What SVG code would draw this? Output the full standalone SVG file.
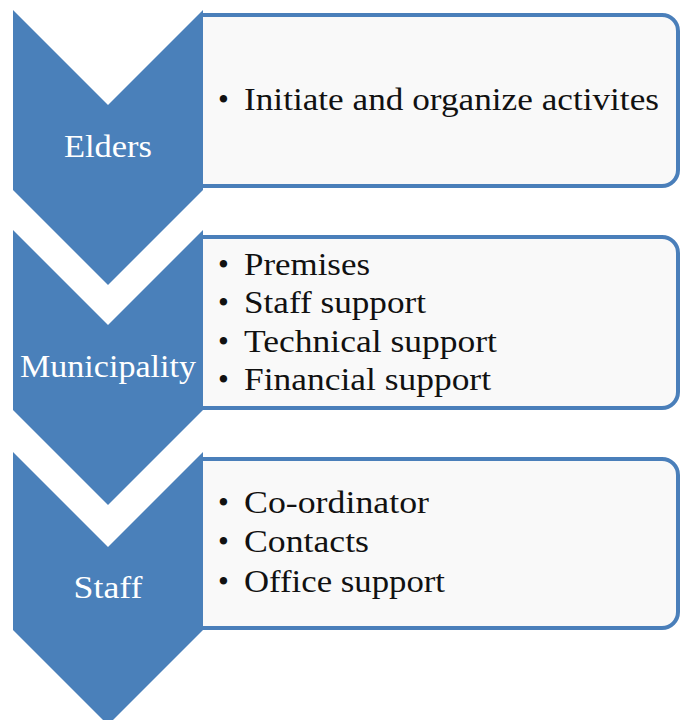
<svg xmlns="http://www.w3.org/2000/svg" width="681" height="720" viewBox="0 0 681 720">
<style>
.box{fill:#f9f9f9;stroke:#4a7fba;stroke-width:4}
.chev{fill:#4a80ba}
.lbl{font-family:"Liberation Serif","Times New Roman",serif;font-size:31px;fill:#ffffff;text-anchor:middle}
.item{font-family:"Liberation Serif","Times New Roman",serif;font-size:31px;fill:#111111}
.bul{font-family:"Liberation Serif","Times New Roman",serif;font-size:31px;fill:#111111}
</style>
<rect width="681" height="720" fill="#ffffff"/>
<g id="box-elders">
<path class="box" d="M203,15 H662 A16,16 0 0 1 678,31 V170 A16,16 0 0 1 662,186 H203"/>
<text class="bul" x="218" y="110">•</text>
<text class="item" x="244" y="110" textLength="415" lengthAdjust="spacingAndGlyphs">Initiate and organize activites</text>
</g>
<g id="box-municipality">
<path class="box" d="M203,237 H662 A16,16 0 0 1 678,253 V392 A16,16 0 0 1 662,408 H203"/>
<text class="bul" x="218" y="275">•</text>
<text class="item" x="244" y="275" textLength="126" lengthAdjust="spacingAndGlyphs">Premises</text>
<text class="bul" x="218" y="313">•</text>
<text class="item" x="244" y="313" textLength="182" lengthAdjust="spacingAndGlyphs">Staff support</text>
<text class="bul" x="218" y="352">•</text>
<text class="item" x="244" y="352" textLength="253" lengthAdjust="spacingAndGlyphs">Technical support</text>
<text class="bul" x="218" y="390">•</text>
<text class="item" x="244" y="390" textLength="247" lengthAdjust="spacingAndGlyphs">Financial support</text>
</g>
<g id="box-staff">
<path class="box" d="M203,459 H662 A16,16 0 0 1 678,475 V612 A16,16 0 0 1 662,628 H203"/>
<text class="bul" x="218" y="513">•</text>
<text class="item" x="244" y="513" textLength="185" lengthAdjust="spacingAndGlyphs">Co-ordinator</text>
<text class="bul" x="218" y="552">•</text>
<text class="item" x="244" y="552" textLength="125" lengthAdjust="spacingAndGlyphs">Contacts</text>
<text class="bul" x="218" y="592">•</text>
<text class="item" x="244" y="592" textLength="201" lengthAdjust="spacingAndGlyphs">Office support</text>
</g>
<g id="elders">
<path class="chev" d="M13,10 L108,105 L203,10 L203,190 L108,285 L13,190 Z"/>
<text class="lbl" x="108" y="157" textLength="88" lengthAdjust="spacingAndGlyphs">Elders</text>
</g>
<g id="municipality">
<path class="chev" d="M13,230 L108,325 L203,230 L203,410 L108,505 L13,410 Z"/>
<text class="lbl" x="108" y="377" textLength="176" lengthAdjust="spacingAndGlyphs">Municipality</text>
</g>
<g id="staff">
<path class="chev" d="M13,452 L108,547 L203,452 L203,630 L108,725 L13,630 Z"/>
<text class="lbl" x="108" y="598" textLength="69" lengthAdjust="spacingAndGlyphs">Staff</text>
</g>
<g id="connectors"></g>
</svg>
